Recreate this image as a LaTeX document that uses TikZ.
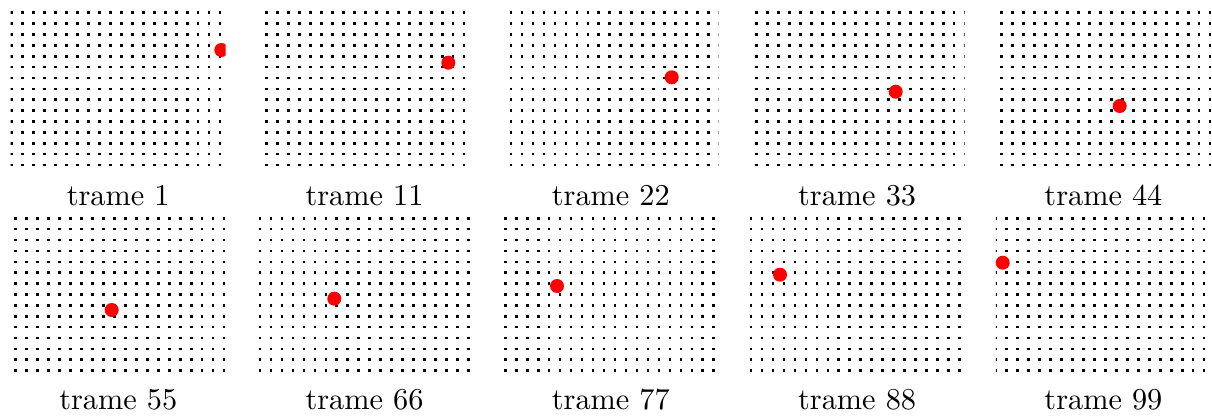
\documentclass[tikz,border=0pt]{standalone}
\tikzset{
  griddot/.style={fill=black},
  target/.style={fill=red},
  caption/.style={anchor=base,inner sep=0pt,font=\normalsize}
}
% #1 left, #2 top, #3 first column x, #4 first row y, #5 red x, #6 red y, #7 frame number
\newcommand\trpanel[7]{%
  \begin{scope}
    \clip (#1,#2) rectangle ++(215,159);
    \foreach \i in {-1,...,20}{
      \foreach \j in {-1,...,15}{
        \fill[griddot] ({#3+10.97*\i-1.3},{#4+10.88*\j-1.3}) rectangle ++(2.6,2.6);
      }
    }
    \fill[target] (#5,#6) circle[radius=7];
  \end{scope}
  \node[caption] (t#7) at ({#1+107.5},{#2+197}) {trame #7};
}
\begin{document}
\begin{tikzpicture}[x=0.330033pt,y=-0.330033pt]
\useasboundingbox (0,0) rectangle (1212,416);
\trpanel{10.7}{8}{11.7}{12.7}{221.3}{50}{1}
\trpanel{257}{8}{255.7}{12.7}{448.3}{62.7}{11}
\trpanel{503.3}{8}{511}{12.7}{671.7}{77.3}{22}
\trpanel{749.6}{8}{756.7}{12.7}{895.7}{91.7}{33}
\trpanel{995.9}{8}{1001.7}{12.7}{1119.7}{106}{44}
\trpanel{10.7}{212}{15.7}{218.3}{111.7}{310}{55}
\trpanel{257}{212}{260}{218.3}{334.3}{298.7}{66}
\trpanel{503.3}{212}{505.3}{218.3}{557}{286}{77}
\trpanel{749.6}{212}{751}{218.3}{780}{274.7}{88}
\trpanel{995.9}{212}{995.7}{218.3}{1002.7}{262.7}{99}
\end{tikzpicture}
\end{document}
